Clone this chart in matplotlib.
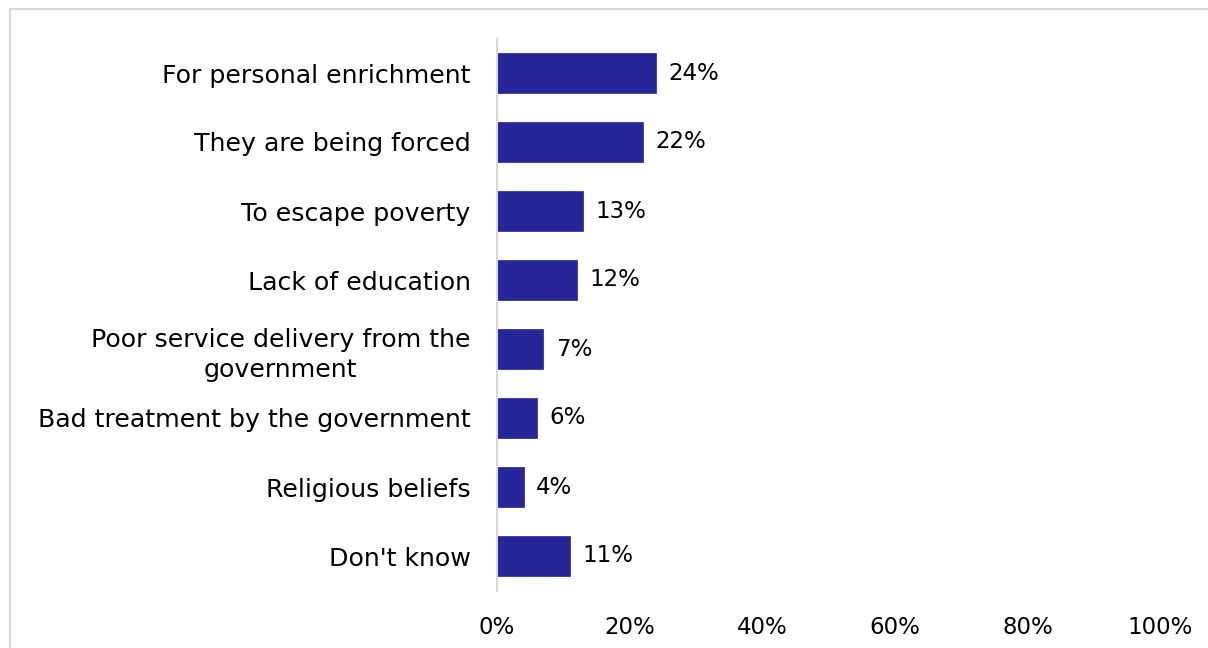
import matplotlib
matplotlib.use("Agg")
import matplotlib.pyplot as plt
from matplotlib.patches import Rectangle

categories = ["For personal enrichment", "They are being forced", "To escape poverty",
              "Lack of education", "Poor service delivery from the\ngovernment",
              "Bad treatment by the government", "Religious beliefs", "Don't know"]
values = [24, 22, 13, 12, 7, 6, 4, 11]
xticks = [0, 20, 40, 60, 80, 100]

plt.rcParams['font.family'] = ['DejaVu Sans']
W, H = 1208, 648
fig = plt.figure(figsize=(W/100, H/100), dpi=100)
ax = fig.add_axes([497/W, 1-590.5/H, (1160-497)/W, (590.5-38.5)/H])

y = list(range(len(categories)))
ax.barh(y, values, height=0.57, color="#262699", edgecolor="#262699", linewidth=0.5)
ax.set_ylim(len(categories)-0.5, -0.5)
ax.set_xlim(0, 100)
ax.set_yticks(y)
ax.set_yticklabels(categories, fontsize=18.2, color="#000000", linespacing=1.35)
for lab in ax.get_yticklabels():
    lab.set_multialignment("center")
ax.set_xticks(xticks)
ax.set_xticklabels([f"{t}%" for t in xticks], fontsize=16.5)
ax.tick_params(axis='y', length=0, pad=19)
ax.tick_params(axis='x', length=0, pad=18)
for s in ["top", "right", "bottom"]:
    ax.spines[s].set_visible(False)
ax.spines["left"].set_color("#d9d9d9")
ax.spines["left"].set_linewidth(1.5)

for yi, v in zip(y, values):
    ax.annotate(f"{v}%", (v, yi), xytext=(9, 0), textcoords="offset points",
                va="center", ha="left", fontsize=16.5)

fig.patches.append(Rectangle((10/W, -0.1), 1.2, 1-9/H+0.1, transform=fig.transFigure,
                             fill=False, edgecolor="#d9d9d9", linewidth=1.5))
fig.savefig("out.png", dpi=100)
